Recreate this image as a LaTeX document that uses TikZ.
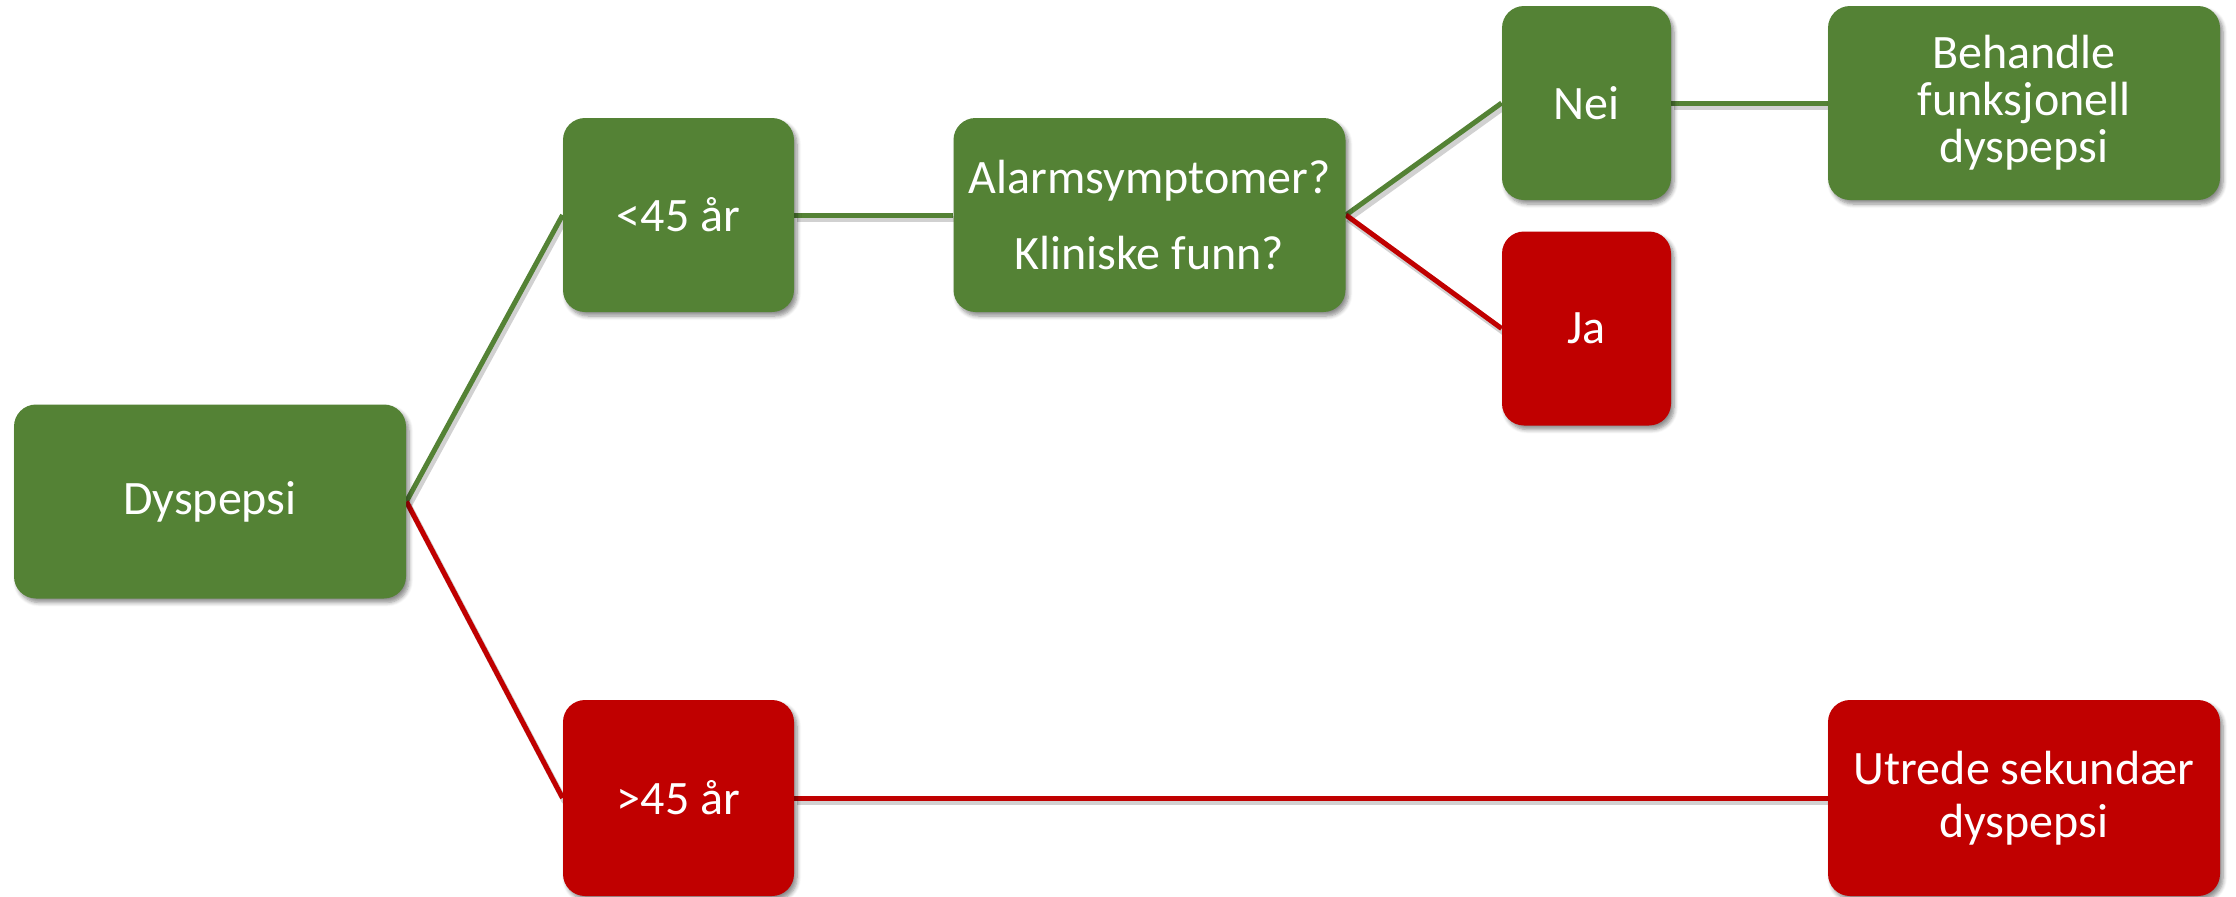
\documentclass[tikz,border=0pt]{standalone}
\usepackage{fontspec}
\setmainfont{Carlito}
\usetikzlibrary{shadows.blur,backgrounds}
\definecolor{boxgreen}{HTML}{548235}
\definecolor{boxred}{HTML}{C00000}
\tikzset{
  box/.style={rounded corners=11pt, inner sep=0pt, text=white, align=center,
    font=\fontsize{24}{27}\selectfont,
    blur shadow={shadow xshift=1.5pt, shadow yshift=-2pt, shadow blur steps=6, shadow blur radius=2pt, shadow opacity=45}},
  gbox/.style={box, fill=boxgreen},
  rbox/.style={box, fill=boxred},
  wide/.style={minimum width=196pt},
  narrow/.style={minimum width=115.5pt},
  thin/.style={minimum width=84.5pt},
  tall/.style={minimum height=97pt},
  gline/.style={draw=boxgreen, line width=2.5pt},
  rline/.style={draw=boxred, line width=2.5pt},
  shline/.style={draw=black, opacity=0.18, line width=3pt, transform canvas={shift={(1.2pt,-2pt)}}}
}
\begin{document}
\begin{tikzpicture}[x=0.5pt,y=-0.5pt]
\useasboundingbox (0,0) rectangle (2236,896);
\node[gbox, wide, tall] (dys) at (210,501.5) {Dyspepsi};
\node[gbox, narrow, tall] (lt) at (678.5,215) {<45 år};
\node[gbox, wide, tall, font=\fontsize{24}{38}\selectfont] (alarm) at (1149.5,215) {Alarmsymptomer?\\Kliniske funn?};
\node[gbox, thin, tall] (nei) at (1586.5,103) {Nei};
\node[rbox, thin, tall] (ja) at (1586.5,328.5) {Ja};
\node[gbox, wide, tall, font=\fontsize{24}{23.5}\selectfont] (beh) at (2024,103) {Behandle\\funksjonell\\dyspepsi};
\node[rbox, narrow, minimum height=98pt] (gt) at (678.5,798) {>45 år};
\node[rbox, wide, minimum height=98pt, font=\fontsize{24}{26.5}\selectfont] (utr) at (2024,798) {Utrede sekundær\\dyspepsi};
\begin{scope}[on background layer]
  \draw[shline] (dys.east) -- (lt.west);
  \draw[shline] (dys.east) -- (gt.west);
  \draw[shline] (lt.east) -- (alarm.west);
  \draw[shline] (alarm.east) -- (nei.west);
  \draw[shline] (alarm.east) -- (ja.west);
  \draw[shline] (nei.east) -- (beh.west);
  \draw[shline] (gt.east) -- (utr.west);
  \draw[gline] (dys.east) -- (lt.west);
  \draw[rline] (dys.east) -- (gt.west);
  \draw[gline] (lt.east) -- (alarm.west);
  \draw[gline] (alarm.east) -- (nei.west);
  \draw[rline] (alarm.east) -- (ja.west);
  \draw[gline] (nei.east) -- (beh.west);
  \draw[rline] (gt.east) -- (utr.west);
\end{scope}
\end{tikzpicture}
\end{document}
